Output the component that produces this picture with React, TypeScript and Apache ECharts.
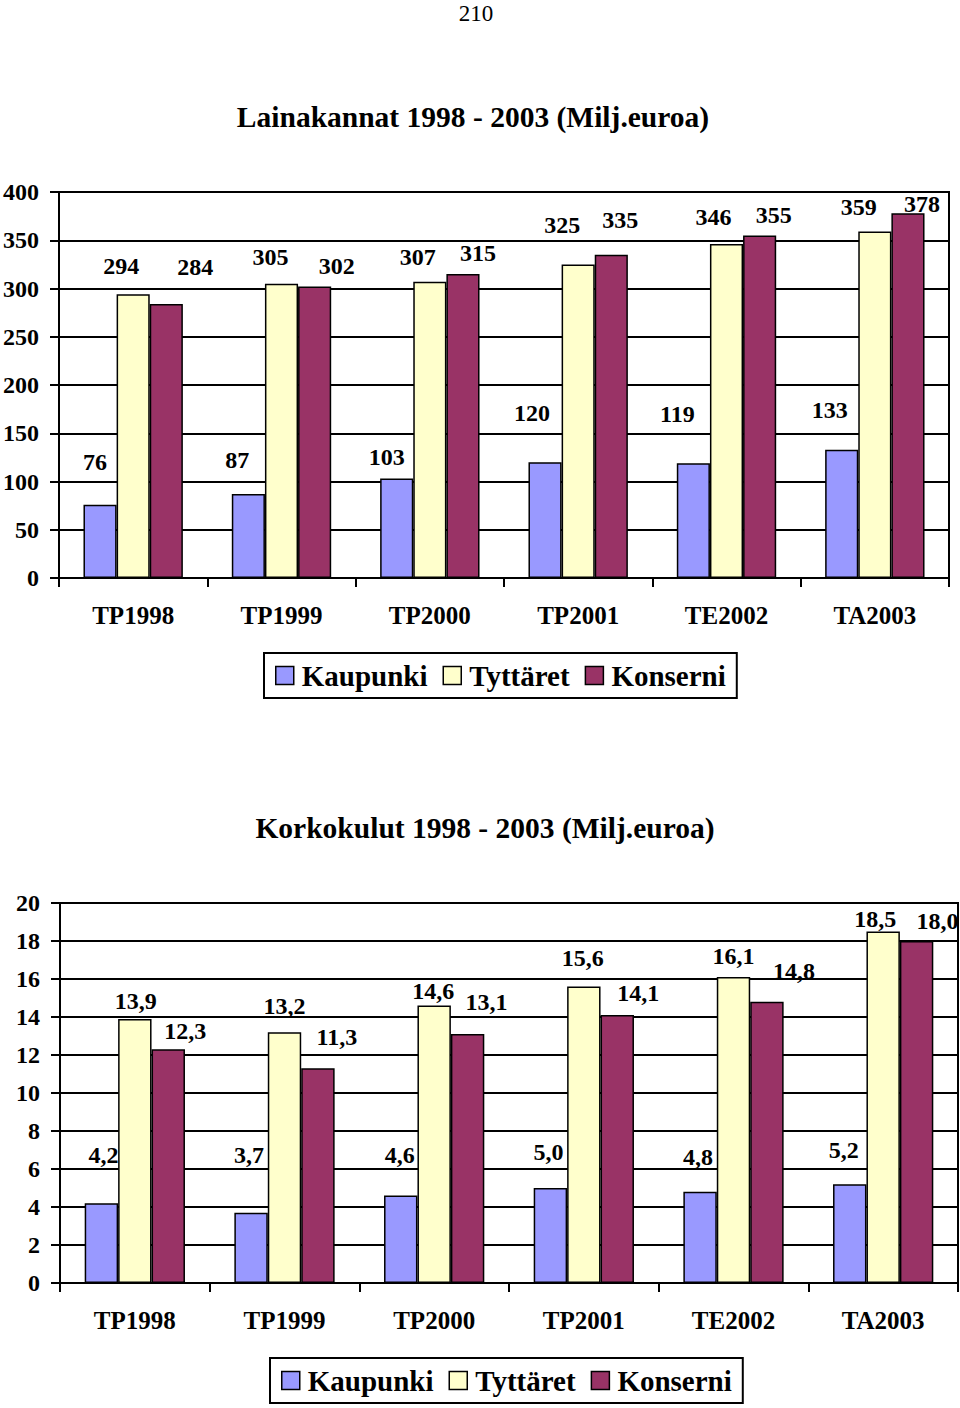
import React, { useEffect, useRef } from "react";
import * as echarts from "echarts";

const categories = ["TP1998", "TP1999", "TP2000", "TP2001", "TE2002", "TA2003"];
const seriesNames = ["Kaupunki", "Tyttäret", "Konserni"];

// Lainakannat (Milj. euroa)
const loanKaupunki = [76, 87, 103, 120, 119, 133];
const loanTyttaret = [294, 305, 307, 325, 346, 359];
const loanKonserni = [284, 302, 315, 335, 355, 378];

// Korkokulut (Milj. euroa)
const intKaupunki = [4.2, 3.7, 4.6, 5.0, 4.8, 5.2];
const intTyttaret = [13.9, 13.2, 14.6, 15.6, 16.1, 18.5];
const intKonserni = [12.3, 11.3, 13.1, 14.1, 14.8, 18.0];

// label placement (layout only)
const loanOffsets = [
  [[-5, -31], [-11, -22], [-10, -10], [-13, -37], [-16, -37], [-12, -28]],
  [[-12, -16], [-11, -15], [-12, -13], [-16, -27], [-13, -15], [-16, -13]],
  [[29, -25], [22, -9], [15, -9], [9, -23], [14, -8], [14, 3]],
];
const intOffsets = [
  [[2, -36], [-2, -46], [-1, -29], [-2, -24], [-2, -23], [-6, -22]],
  [[1, -6], [0, -14], [-1, -3], [-1, -17], [0, -9], [-8, -1]],
  [[17, -6], [19, -19], [19, -20], [21, -10], [27, -19], [21, -8]],
];

const colors = ["#9999FF", "#FFFFCC", "#993366"];
const FONT = "'Liberation Serif', 'Times New Roman', serif";

export default function App() {
  const ref = useRef<HTMLDivElement>(null);
  useEffect(() => {
    if (!ref.current) return;
    const chart = echarts.init(ref.current, undefined, { renderer: "svg" });

    const mkSeries = (
      values: number[],
      idx: number,
      offsets: number[][],
      axis: number,
      fmt: (v: number) => string
    ) => ({
      name: seriesNames[idx],
      type: "bar",
      xAxisIndex: axis,
      yAxisIndex: axis,
      barGap: "0%",
      barCategoryGap: "33%",
      itemStyle: { color: colors[idx], borderColor: "#000", borderWidth: 1.5 },
      data: values.map((v, i) => ({ value: v, label: { offset: offsets[i] } })),
      label: {
        show: true,
        position: "top",
        distance: 0,
        fontFamily: FONT,
        fontWeight: "bold",
        fontSize: 24,
        color: "#000",
        formatter: (p: any) => fmt(p.value),
      },
    });

    const fmtInt = (v: number) => String(v);
    const fmtDec = (v: number) => v.toFixed(1).replace(".", ",");

    const xAxisBase = {
      type: "category",
      data: categories,
      axisLine: { lineStyle: { color: "#000", width: 2 } },
      axisTick: { show: true, length: 9, lineStyle: { color: "#000", width: 2 } },
      axisLabel: { fontFamily: FONT, fontWeight: "bold", fontSize: 25, color: "#000", margin: 25 },
    };
    const yAxisBase = {
      type: "value",
      axisLine: { show: true, lineStyle: { color: "#000", width: 2 } },
      axisTick: { show: true, length: 9, lineStyle: { color: "#000", width: 2 } },
      splitLine: { show: true, lineStyle: { color: "#000", width: 2 } },
      axisLabel: { fontFamily: FONT, fontWeight: "bold", fontSize: 24, color: "#000", margin: 20 },
    };

    const legendBase = {
      data: seriesNames,
      orient: "horizontal",
      icon: "rect",
      itemWidth: 18,
      itemHeight: 18,
      itemGap: 15,
      borderColor: "#000",
      borderWidth: 2,
      padding: [8, 11],
      itemStyle: { borderColor: "#000", borderWidth: 1.5 },
      textStyle: {
        fontFamily: FONT,
        fontWeight: "bold",
        fontSize: 29,
        color: "#000",
        padding: [0, 0, 0, 3],
      },
    };

    chart.setOption({
      animation: false,
      backgroundColor: "#fff",
      graphic: [
        {
          type: "text",
          x: 476,
          y: 13,
          style: { text: "210", font: `23px ${FONT}`, fill: "#000", textAlign: "center", textVerticalAlign: "middle" },
        },
        {
          type: "text",
          x: 473,
          y: 117,
          style: {
            text: "Lainakannat 1998 - 2003 (Milj.euroa)",
            font: `bold 29.5px ${FONT}`,
            fill: "#000",
            textAlign: "center",
            textVerticalAlign: "middle",
          },
        },
        {
          type: "text",
          x: 485,
          y: 828,
          style: {
            text: "Korkokulut 1998 - 2003 (Milj.euroa)",
            font: `bold 29.5px ${FONT}`,
            fill: "#000",
            textAlign: "center",
            textVerticalAlign: "middle",
          },
        },
      ],
      grid: [
        { left: 57, top: 192, width: 892, height: 386, show: true, borderColor: "#000", borderWidth: 2, backgroundColor: "transparent" },
        { left: 60, top: 903, width: 898, height: 380, show: true, borderColor: "#000", borderWidth: 2, backgroundColor: "transparent" },
      ],
      xAxis: [
        { ...xAxisBase, gridIndex: 0 },
        { ...xAxisBase, gridIndex: 1 },
      ],
      yAxis: [
        { ...yAxisBase, gridIndex: 0, min: 0, max: 400, interval: 50 },
        { ...yAxisBase, gridIndex: 1, min: 0, max: 20, interval: 2 },
      ],
      legend: [
        { ...legendBase, left: 264, top: 653 },
        { ...legendBase, left: 270, top: 1358 },
      ],
      series: [
        mkSeries(loanKaupunki, 0, loanOffsets[0], 0, fmtInt),
        mkSeries(loanTyttaret, 1, loanOffsets[1], 0, fmtInt),
        mkSeries(loanKonserni, 2, loanOffsets[2], 0, fmtInt),
        mkSeries(intKaupunki, 0, intOffsets[0], 1, fmtDec),
        mkSeries(intTyttaret, 1, intOffsets[1], 1, fmtDec),
        mkSeries(intKonserni, 2, intOffsets[2], 1, fmtDec),
      ],
    });
    return () => chart.dispose();
  }, []);

  return (
    <div
      ref={ref}
      style={{ position: "absolute", left: 0, top: 0, width: 960, height: 1408, background: "#fff" }}
    />
  );
}
